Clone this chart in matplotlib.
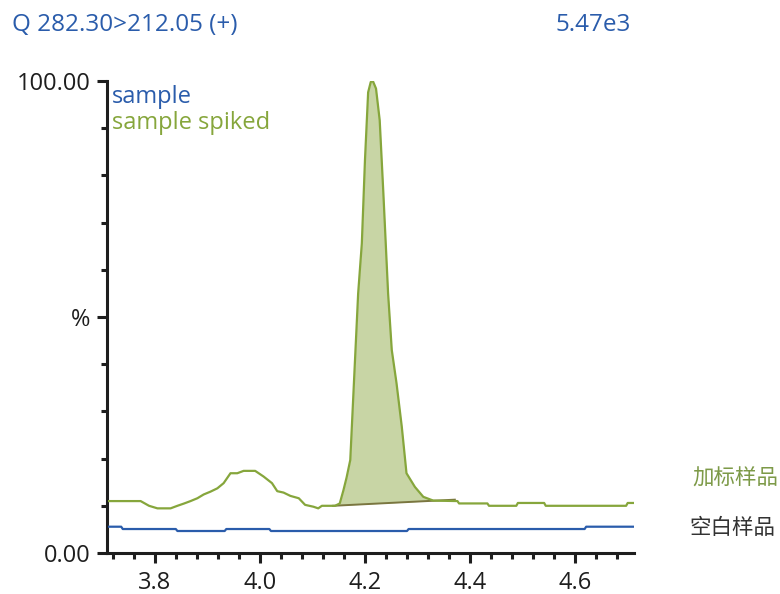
import matplotlib
matplotlib.use("Agg")
import matplotlib.pyplot as plt
import numpy as np

plt.rcParams['font.family'] = ['Open Sans', 'DejaVu Sans']

# Data (retention time in min, relative intensity %)
sample_t = [3.713, 3.736, 3.739, 3.840, 3.843, 3.933, 3.936, 4.018, 4.021, 4.280, 4.283, 4.618, 4.621, 4.712]
sample_v = [5.57, 5.57, 5.08, 5.08, 4.66, 4.66, 5.08, 5.08, 4.66, 4.66, 5.08, 5.08, 5.57, 5.57]

spiked_t = [3.713, 3.773, 3.789, 3.805, 3.830, 3.843, 3.856, 3.868, 3.881, 3.893, 3.906,
            3.919, 3.931, 3.944, 3.957, 3.969, 3.991, 4.007, 4.023, 4.033, 4.045, 4.058,
            4.074, 4.086, 4.102, 4.111, 4.118, 4.143, 4.152, 4.159, 4.165, 4.172, 4.178,
            4.184, 4.187, 4.194, 4.200, 4.206, 4.211, 4.215, 4.221, 4.228, 4.235, 4.244,
            4.251, 4.260, 4.270, 4.279, 4.295, 4.311, 4.330, 4.376, 4.379, 4.433, 4.436,
            4.488, 4.491, 4.541, 4.544, 4.697, 4.700, 4.712]
spiked_v = [11.0, 11.0, 10.0, 9.46, 9.46, 10.0, 10.5, 11.0, 11.6, 12.4, 13.0,
            13.7, 14.8, 16.9, 16.9, 17.4, 17.4, 16.2, 14.8, 13.1, 12.8, 12.1,
            11.6, 10.2, 9.8, 9.46, 10.0, 10.0, 10.5, 13.3, 16.0, 19.7, 33.8,
            47.9, 55.0, 65.6, 83.3, 97.6, 99.8, 100.0, 98.4, 91.7, 76.2, 55.0,
            43.0, 36.0, 26.8, 16.9, 14.0, 11.9, 11.1, 11.0, 10.5, 10.5, 10.0,
            10.0, 10.6, 10.6, 10.0, 10.0, 10.6, 10.6]

peak_start_t, peak_end_t = 4.139, 4.371
base_start_v, base_end_v = 10.0, 11.3

x_ticks = [3.8, 4.0, 4.2, 4.4, 4.6]
x_ticklabels = ["3.8", "4.0", "4.2", "4.4", "4.6"]
y_ticks = [0, 50, 100]
y_ticklabels = ["0.00", "%", "100.00"]

title_left = "Q 282.30>212.05 (+)"
title_right = "5.47e3"
legend_labels = ["sample", "sample spiked"]
side_labels = ["加标样品", "空白样品"]

blue = "#2a5cab"
green = "#86a63c"
fill_c = "#c8d5a5"
base_c = "#7a7640"
dark = "#1e1e1e"

fig = plt.figure(figsize=(7.8, 5.94), dpi=100)
ax = fig.add_axes([107/780, 41/594, 527/780, 472/594])

t = np.array(spiked_t)
v = np.array(spiked_v)
mask = (t >= peak_start_t) & (t <= peak_end_t)
tt = np.concatenate([[peak_start_t], t[mask], [peak_end_t]])
vv = np.concatenate([[base_start_v], v[mask], [np.interp(peak_end_t, t, v)]])
base = np.interp(tt, [peak_start_t, peak_end_t], [base_start_v, base_end_v])
ax.fill_between(tt, base, np.maximum(vv, base), color=fill_c, lw=0, zorder=1)
ax.plot([peak_start_t, peak_end_t], [base_start_v, base_end_v], color=base_c, lw=1.4, zorder=2)

ax.plot(sample_t, sample_v, color=blue, lw=1.6, zorder=3)
ax.plot(spiked_t, spiked_v, color=green, lw=1.6, zorder=3)

ax.set_xlim(3.709, 4.712)
ax.set_ylim(0, 100)
for s in ["top", "right"]:
    ax.spines[s].set_visible(False)
for s in ["left", "bottom"]:
    ax.spines[s].set_linewidth(2.2)
    ax.spines[s].set_color(dark)

ax.set_xticks(x_ticks)
ax.set_xticklabels(x_ticklabels)
ax.set_xticks(np.arange(3.72, 4.71, 0.04), minor=True)
ax.set_yticks(y_ticks)
ax.set_yticklabels(y_ticklabels)
ax.set_yticks(np.arange(10, 100, 10), minor=True)
ax.tick_params(axis='both', which='major', length=7, width=2.2, color=dark,
               labelsize=17, labelcolor=dark)
ax.tick_params(axis='y', which='major', pad=5)
ax.tick_params(axis='x', which='major', pad=6)
ax.tick_params(axis='both', which='minor', length=4, width=2.2, color=dark)

fig.text(12/780, 1 - 25/594, title_left, color=blue, fontsize=17.5, ha='left', va='center')
fig.text(631/780, 1 - 25/594, title_right, color=blue, fontsize=17.5, ha='right', va='center')

fig.text(112/780, 1 - 97/594, legend_labels[0], color=blue, fontsize=17, ha='left', va='center')
fig.text(112/780, 1 - 123/594, legend_labels[1], color=green, fontsize=17, ha='left', va='center')

fig.text(778/780, 1 - 479/594, side_labels[0], color="#7d9a48", fontsize=15.5,
         ha='right', va='center', family=['Noto Sans CJK SC', 'DejaVu Sans'], fontweight='light')
fig.text(775/780, 1 - 528/594, side_labels[1], color="#333333", fontsize=15.5,
         ha='right', va='center', family=['Noto Sans CJK SC', 'DejaVu Sans'], fontweight='light')

fig.savefig("out.png", dpi=100)
